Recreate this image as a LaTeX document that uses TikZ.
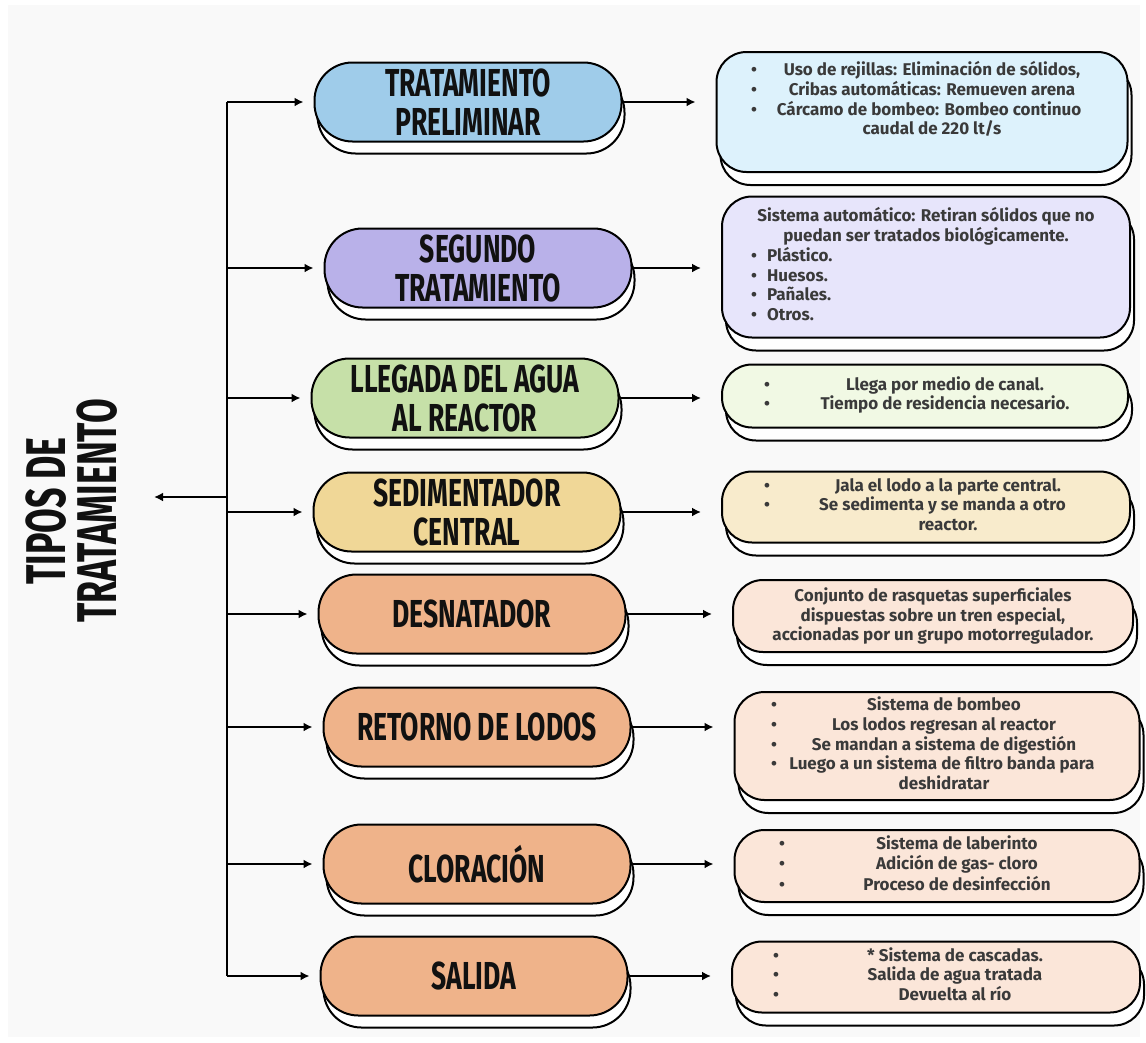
\documentclass[tikz,border=0pt]{standalone}
\usepackage{fontspec}
\usepackage{array}
\setmainfont{Fira Sans}
\newfontfamily\headfont[FakeStretch=0.68]{Fira Sans}
\newfontfamily\titlefont[FakeStretch=0.64]{Fira Sans}
\usetikzlibrary{arrows.meta,shadows}
\newcolumntype{C}[1]{>{\centering\arraybackslash}p{#1}}
\definecolor{paper}{HTML}{F9F9F9}
\definecolor{ink}{HTML}{111111}
\definecolor{slate}{HTML}{3A3A3A}
\definecolor{sky}{HTML}{9FCCEA}
\definecolor{skylt}{HTML}{DDF2FC}
\definecolor{lilac}{HTML}{B9B1E9}
\definecolor{lilaclt}{HTML}{E7E5FB}
\definecolor{leaf}{HTML}{C6E0A8}
\definecolor{leaflt}{HTML}{F1F9E4}
\definecolor{straw}{HTML}{F0D797}
\definecolor{strawlt}{HTML}{F8EBCC}
\definecolor{peach}{HTML}{EFB38A}
\definecolor{peachlt}{HTML}{FBE6D9}
\tikzset{
  stage/.style={draw=black,fill=#1,line width=2pt,rounded corners=38pt,minimum width=307pt,minimum height=79pt,inner sep=0pt,align=center,text=ink,font=\headfont\bfseries\fontsize{39}{39}\selectfont,copy shadow={shadow xshift=3pt,shadow yshift=-12pt,fill=white,draw=black,line width=2pt}},
  detail/.style={draw=black,fill=#1,line width=2pt,rounded corners=30pt,inner sep=0pt,text=slate,font=\bfseries\fontsize{17}{19.5}\selectfont,copy shadow={shadow xshift=4pt,shadow yshift=-13pt,fill=white,draw=black,line width=2pt}},
  link/.style={line width=1.8pt,draw=black},
  arrow/.style={link,-{Latex[length=9pt,width=9pt]}},
}
\begin{document}
\begin{tikzpicture}[x=1pt,y=-1pt]
  \useasboundingbox (0,0) rectangle (1146,1042);
  \fill[white] (0,0) rectangle (1146,1042);
  \fill[paper] (8,5) rectangle (1140,1037);

  \node[rotate=90,align=center,inner sep=0pt,text=ink,font=\titlefont\bfseries\fontsize{56}{51}\selectfont] (title) at (72,511) {TIPOS DE\\TRATAMIENTO};

  \node[stage=sky] (p1) at (468,102) {TRATAMIENTO\\PRELIMINAR};
  \node[stage=lilac] (p2) at (478,268) {SEGUNDO\\TRATAMIENTO};
  \node[stage=leaf] (p3) at (465,398) {LLEGADA DEL AGUA\\AL REACTOR};
  \node[stage=straw] (p4) at (467,512) {SEDIMENTADOR\\CENTRAL};
  \node[stage=peach] (p5) at (472,614) {DESNATADOR};
  \node[stage=peach] (p6) at (477,727) {RETORNO DE LODOS};
  \node[stage=peach] (p7) at (477,864) {CLORACIÓN};
  \node[stage=peach] (p8) at (474,976) {SALIDA};

  \node[detail=skylt,minimum width=411pt,minimum height=120pt] (d1) at (922,112) {%
    \begin{tabular}{@{}p{20pt}@{}C{322pt}@{}}
    \textbullet & Uso de rejillas: Eliminación de sólidos,\\
    \textbullet & Cribas automáticas: Remueven arena\\
    \textbullet & Cárcamo de bombeo: Bombeo continuo\newline caudal de 220 lt/s\\[42pt]
    \end{tabular}};
  \node[detail=lilaclt,minimum width=408pt,minimum height=141pt] (d2) at (926,267) {%
    \begin{tabular}{@{}p{16pt}@{}p{334pt}@{}}
    \multicolumn{2}{@{}c@{}}{Sistema automático: Retiran sólidos que no}\\
    \multicolumn{2}{@{}c@{}}{puedan ser tratados biológicamente.}\\
    \textbullet & Plástico.\\
    \textbullet & Huesos.\\
    \textbullet & Pañales.\\
    \textbullet & Otros.
    \end{tabular}};
  \node[detail=leaflt,minimum width=406pt,minimum height=63pt] (d3) at (925,396) {%
    \begin{tabular}{@{}p{40pt}@{}C{282pt}@{}}
    \textbullet & Llega por medio de canal.\\
    \textbullet & Tiempo de residencia necesario.
    \end{tabular}};
  \node[detail=strawlt,minimum width=408pt,minimum height=71pt] (d4) at (926,507) {%
    \begin{tabular}{@{}p{44pt}@{}C{280pt}@{}}
    \textbullet & Jala el lodo a la parte central.\\
    \textbullet & Se sedimenta y se manda a otro\newline reactor.
    \end{tabular}};
  \node[detail=peachlt,minimum width=400pt,minimum height=72pt,align=center] (d5) at (933,616) {Conjunto de rasquetas superficiales\\dispuestas sobre un tren especial,\\accionadas por un grupo motorregulador.};
  \node[detail=peachlt,minimum width=405pt,minimum height=108pt] (d6) at (937,746) {%
    \begin{tabular}{@{}p{14pt}@{}C{318pt}@{}}
    \textbullet & Sistema de bombeo\\
    \textbullet & Los lodos regresan al reactor\\
    \textbullet & Se mandan a sistema de digestión\\
    \textbullet & Luego a un sistema de filtro banda para\newline deshidratar
    \end{tabular}};
  \node[detail=peachlt,minimum width=405pt,minimum height=72pt] (d7) at (937,866) {%
    \begin{tabular}{@{}p{40pt}@{}C{276pt}@{}}
    \textbullet & Sistema de laberinto\\
    \textbullet & Adición de gas- cloro\\
    \textbullet & Proceso de desinfección
    \end{tabular}};
  \node[detail=peachlt,minimum width=408pt,minimum height=71pt] (d8) at (936,977) {%
    \begin{tabular}{@{}p{38pt}@{}C{288pt}@{}}
    \textbullet & * Sistema de cascadas.\\
    \textbullet & Salida de agua tratada\\
    \textbullet & Devuelta al río
    \end{tabular}};

  \coordinate (hub) at (227,497);
  \draw[link] (p1.west -| hub) -- (p8.west -| hub);
  \draw[arrow,shorten >=36pt] (hub) -- (hub -| title.south);
  \foreach \i in {1,...,8} {
    \draw[arrow,shorten >=10pt] (p\i.west -| hub) -- (p\i.west);
    \draw[arrow,shorten >=20pt] (p\i.east) -- (p\i.east -| d\i.west);
  }
\end{tikzpicture}
\end{document}
